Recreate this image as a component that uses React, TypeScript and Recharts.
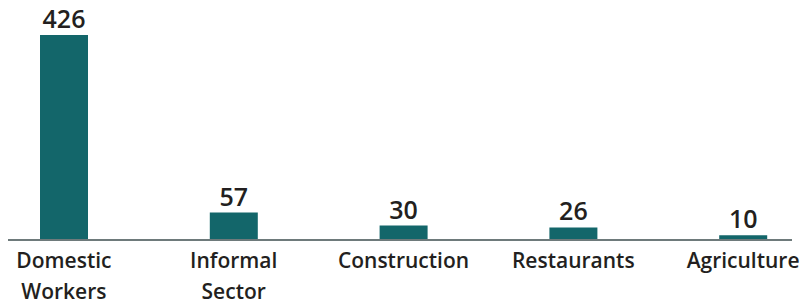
import { Bar, BarChart, LabelList, XAxis, YAxis } from "recharts";

const categories = ["Domestic Workers", "Informal Sector", "Construction", "Restaurants", "Agriculture"];
const values = [426, 57, 30, 26, 10];

const data = categories.map((name, i) => ({ name, value: values[i] }));

const BAR_COLOR = "#13666a";
const TEXT_COLOR = "#231f20";
const FONT = "'Open Sans', sans-serif";

function CategoryTick({ x, y, payload }: any) {
    const lines = String(payload.value).split(" ");
    return (
        <text
            x={x}
            y={y}
            textAnchor="middle"
            fill={TEXT_COLOR}
            fontFamily={FONT}
            fontWeight={600}
            fontSize={21}
        >
            {lines.map((line, i) => (
                <tspan key={i} x={x} dy={i === 0 ? 20 : 31}>
                    {line}
                </tspan>
            ))}
        </text>
    );
}

export default function App() {
    return (
        <div
            style={{
                position: "relative",
                width: 811,
                height: 305,
                margin: "-8px -8px 0 -8px",
                background: "#fff",
            }}
        >
            <BarChart
                width={811}
                height={305}
                data={data}
                margin={{ top: 35, right: -17, bottom: 0, left: -21 }}
            >
                <XAxis
                    dataKey="name"
                    axisLine={false}
                    tickLine={false}
                    height={65}
                    interval={0}
                    tick={<CategoryTick />}
                />
                <YAxis hide domain={[0, "dataMax"]} />
                <Bar dataKey="value" fill={BAR_COLOR} barSize={48} isAnimationActive={false}>
                    <LabelList
                        dataKey="value"
                        position="top"
                        offset={7}
                        fill={TEXT_COLOR}
                        fontFamily={FONT}
                        fontWeight={600}
                        fontSize={25}
                    />
                </Bar>
            </BarChart>
            <div
                style={{
                    position: "absolute",
                    left: 8,
                    top: 239,
                    width: 784,
                    height: 2,
                    background: "#6e7a7b",
                }}
            />
        </div>
    );
}
